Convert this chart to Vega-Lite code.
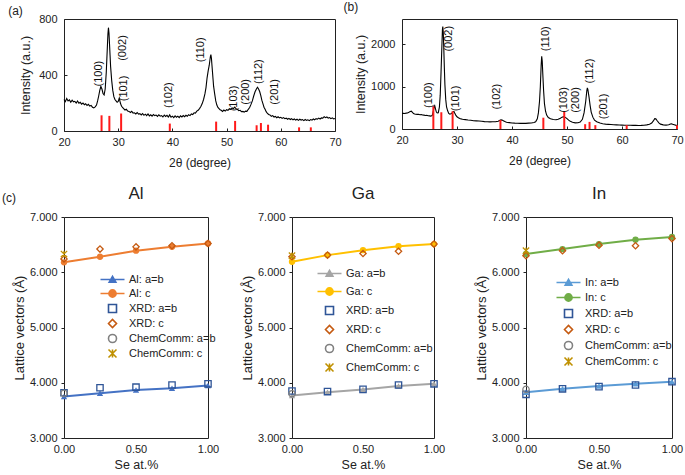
{
  "$schema": "https://vega.github.io/schema/vega-lite/v6.json",
  "background": "white",
  "padding": {"left": 1, "top": 0, "right": 0, "bottom": 0},
  "spacing": 15,
  "resolve": {"scale": {"stroke": "independent", "fill": "independent", "shape": "independent"}, "legend": {"stroke": "independent", "fill": "independent", "shape": "independent"}},
  "config": {
    "font": "Liberation Sans",
    "view": {"stroke": "#222", "strokeWidth": 1},
    "axis": {"labelFont": "Liberation Sans", "titleFont": "Liberation Sans", "labelColor": "#222", "titleColor": "#222", "titleFontWeight": "normal", "grid": false, "domain": false, "tickColor": "#222", "labelFlush": false, "labelOverlap": false},
    "title": {"font": "Liberation Sans", "fontWeight": "normal", "color": "#222"},
    "legend": {"labelFont": "Liberation Sans", "labelColor": "#222", "labelFontSize": 11, "title": null, "padding": 0, "symbolSize": 64, "symbolStrokeWidth": 1.6, "labelOffset": 11, "orient": "none"}
  },
  "vconcat": [
    {
      "title": {"text": "(a)", "anchor": "start", "frame": "bounds", "dx": -11, "fontSize": 12, "offset": -17},
      "spacing": 1,
      "hconcat": [
        {
          "width": 271, "height": 112,
          "layer": [
            {
              "data": {"values": [
                {"t":20.0,"i":225},{"t":20.25,"i":210},{"t":20.5,"i":232},{"t":20.75,"i":215},{"t":21.0,"i":222},{"t":21.25,"i":205},{"t":21.5,"i":220},{"t":21.75,"i":208},{"t":22.0,"i":212},{"t":22.25,"i":200},{"t":22.5,"i":214},{"t":22.75,"i":198},{"t":23.0,"i":205},{"t":23.25,"i":192},{"t":23.5,"i":200},{"t":23.75,"i":188},{"t":24.0,"i":195},{"t":24.25,"i":182},{"t":24.5,"i":190},{"t":24.75,"i":178},{"t":25.0,"i":183},{"t":25.25,"i":170},{"t":25.5,"i":165},{"t":25.75,"i":172},{"t":26.0,"i":185},{"t":26.2,"i":215},{"t":26.4,"i":250},{"t":26.6,"i":290},{"t":26.8,"i":318},{"t":27.0,"i":300},{"t":27.2,"i":268},{"t":27.4,"i":258},{"t":27.6,"i":300},{"t":27.8,"i":420},{"t":28.0,"i":600},{"t":28.1,"i":690},{"t":28.2,"i":738},{"t":28.3,"i":700},{"t":28.4,"i":620},{"t":28.5,"i":540},{"t":28.6,"i":460},{"t":28.8,"i":360},{"t":29.0,"i":290},{"t":29.2,"i":245},{"t":29.4,"i":225},{"t":29.6,"i":215},{"t":29.8,"i":205},{"t":30.0,"i":212},{"t":30.2,"i":235},{"t":30.4,"i":200},{"t":30.6,"i":178},{"t":30.8,"i":168},{"t":31.0,"i":160},{"t":31.25,"i":150},{"t":31.5,"i":155},{"t":31.75,"i":142},{"t":32.0,"i":140},{"t":32.25,"i":132},{"t":32.5,"i":140},{"t":32.75,"i":128},{"t":33.0,"i":130},{"t":33.25,"i":122},{"t":33.5,"i":132},{"t":33.75,"i":120},{"t":34.0,"i":124},{"t":34.25,"i":115},{"t":34.5,"i":125},{"t":34.75,"i":112},{"t":35.0,"i":120},{"t":35.25,"i":110},{"t":35.5,"i":122},{"t":35.75,"i":108},{"t":36.0,"i":116},{"t":36.25,"i":106},{"t":36.5,"i":118},{"t":36.75,"i":110},{"t":37.0,"i":114},{"t":37.25,"i":104},{"t":37.5,"i":116},{"t":37.75,"i":106},{"t":38.0,"i":110},{"t":38.25,"i":100},{"t":38.5,"i":114},{"t":38.75,"i":104},{"t":39.0,"i":112},{"t":39.25,"i":100},{"t":39.5,"i":115},{"t":39.75,"i":98},{"t":40.0,"i":106},{"t":40.25,"i":96},{"t":40.5,"i":108},{"t":40.75,"i":98},{"t":41.0,"i":106},{"t":41.25,"i":95},{"t":41.5,"i":108},{"t":41.75,"i":100},{"t":42.0,"i":110},{"t":42.25,"i":102},{"t":42.5,"i":112},{"t":42.75,"i":105},{"t":43.0,"i":116},{"t":43.25,"i":110},{"t":43.5,"i":122},{"t":43.75,"i":118},{"t":44.0,"i":130},{"t":44.25,"i":128},{"t":44.5,"i":142},{"t":44.75,"i":148},{"t":45.0,"i":160},{"t":45.25,"i":175},{"t":45.5,"i":196},{"t":45.75,"i":225},{"t":46.0,"i":265},{"t":46.2,"i":310},{"t":46.4,"i":380},{"t":46.6,"i":430},{"t":46.8,"i":470},{"t":46.9,"i":500},{"t":47.0,"i":530},{"t":47.1,"i":545},{"t":47.2,"i":520},{"t":47.3,"i":470},{"t":47.4,"i":420},{"t":47.5,"i":370},{"t":47.6,"i":320},{"t":47.8,"i":265},{"t":48.0,"i":215},{"t":48.2,"i":185},{"t":48.4,"i":168},{"t":48.6,"i":160},{"t":48.8,"i":152},{"t":49.0,"i":148},{"t":49.25,"i":140},{"t":49.5,"i":150},{"t":49.75,"i":142},{"t":50.0,"i":152},{"t":50.25,"i":148},{"t":50.5,"i":158},{"t":50.75,"i":155},{"t":51.0,"i":165},{"t":51.25,"i":160},{"t":51.5,"i":170},{"t":51.75,"i":158},{"t":52.0,"i":155},{"t":52.25,"i":145},{"t":52.5,"i":148},{"t":52.75,"i":138},{"t":53.0,"i":140},{"t":53.25,"i":135},{"t":53.5,"i":142},{"t":53.75,"i":140},{"t":54.0,"i":155},{"t":54.25,"i":168},{"t":54.5,"i":190},{"t":54.75,"i":215},{"t":55.0,"i":250},{"t":55.25,"i":280},{"t":55.5,"i":300},{"t":55.7,"i":312},{"t":55.9,"i":300},{"t":56.1,"i":282},{"t":56.3,"i":255},{"t":56.5,"i":220},{"t":56.7,"i":195},{"t":56.9,"i":170},{"t":57.1,"i":155},{"t":57.3,"i":138},{"t":57.5,"i":128},{"t":57.75,"i":118},{"t":58.0,"i":115},{"t":58.25,"i":105},{"t":58.5,"i":110},{"t":58.75,"i":100},{"t":59.0,"i":104},{"t":59.25,"i":95},{"t":59.5,"i":102},{"t":59.75,"i":94},{"t":60.0,"i":98},{"t":60.25,"i":90},{"t":60.5,"i":96},{"t":60.75,"i":88},{"t":61.0,"i":92},{"t":61.25,"i":84},{"t":61.5,"i":90},{"t":61.75,"i":82},{"t":62.0,"i":88},{"t":62.25,"i":80},{"t":62.5,"i":86},{"t":62.75,"i":78},{"t":63.0,"i":84},{"t":63.25,"i":76},{"t":63.5,"i":84},{"t":63.75,"i":78},{"t":64.0,"i":82},{"t":64.25,"i":74},{"t":64.5,"i":82},{"t":64.75,"i":76},{"t":65.0,"i":80},{"t":65.25,"i":74},{"t":65.5,"i":82},{"t":65.75,"i":78},{"t":66.0,"i":86},{"t":66.25,"i":80},{"t":66.5,"i":88},{"t":66.75,"i":84},{"t":67.0,"i":92},{"t":67.25,"i":86},{"t":67.5,"i":94},{"t":67.75,"i":92},{"t":68.0,"i":102},{"t":68.25,"i":95},{"t":68.5,"i":100},{"t":68.75,"i":92},{"t":69.0,"i":96},{"t":69.25,"i":88},{"t":69.5,"i":94},{"t":69.75,"i":86},{"t":70.0,"i":90}
              ]},
              "mark": {"type": "line", "color": "black", "strokeWidth": 1.1},
              "encoding": {
                "x": {"field": "t", "type": "quantitative", "scale": {"domain": [20, 70]}, "axis": {"values": [20,30,40,50,60,70], "title": "2θ (degree)", "tickSize": -3, "labelPadding": 8, "labelFontSize": 11, "titleFontSize": 12, "titlePadding": 10}},
                "y": {"field": "i", "type": "quantitative", "scale": {"domain": [0, 800]}, "axis": {"values": [0,200,400,600,800], "format": "d", "title": "Intensity (a.u.)", "tickSize": -3, "labelPadding": 10, "labelFontSize": 11, "titleFontSize": 12.5, "titlePadding": 6}}
              }
            },
            {
              "data": {"values": [
                {"t":26.93,"i":112},{"t":28.37,"i":108},{"t":30.54,"i":125},{"t":39.52,"i":53},{"t":48.07,"i":67},{"t":51.57,"i":72},{"t":55.54,"i":41},{"t":56.33,"i":57},{"t":57.65,"i":45},{"t":63.37,"i":26},{"t":65.54,"i":26}
              ]},
              "mark": {"type": "rule", "color": "#ff1a1a", "strokeWidth": 2},
              "encoding": {
                "x": {"field": "t", "type": "quantitative"},
                "y": {"field": "i", "type": "quantitative"},
                "y2": {"datum": 0}
              }
            },
            {
              "data": {"values": [
                {"t":26.5,"i":410,"h":"(100)"},{"t":30.9,"i":593,"h":"(002)"},{"t":31.1,"i":304,"h":"(101)"},{"t":39.3,"i":256,"h":"(102)"},{"t":45.3,"i":580,"h":"(110)"},{"t":51.3,"i":232,"h":"(103)"},{"t":53.6,"i":280,"h":"(200)"},{"t":56.0,"i":424,"h":"(112)"},{"t":58.9,"i":280,"h":"(201)"}
              ]},
              "mark": {"type": "text", "angle": 270, "align": "center", "baseline": "middle", "fontSize": 11, "font": "Liberation Sans", "color": "#111"},
              "encoding": {
                "x": {"field": "t", "type": "quantitative"},
                "y": {"field": "i", "type": "quantitative"},
                "text": {"field": "h"}
              }
            }
          ]
        },
        {
          "title": {"text": "(b)", "anchor": "start", "frame": "bounds", "dx": -11, "fontSize": 12, "offset": 5},
          "width": 275, "height": 110,
          "layer": [
            {
              "data": {"values": [
                {"t":20.0,"i":365},{"t":20.25,"i":372},{"t":20.5,"i":368},{"t":20.75,"i":376},{"t":21.0,"i":380},{"t":21.25,"i":395},{"t":21.5,"i":412},{"t":21.7,"i":420},{"t":21.9,"i":395},{"t":22.1,"i":365},{"t":22.3,"i":355},{"t":22.5,"i":350},{"t":22.75,"i":345},{"t":23.0,"i":348},{"t":23.25,"i":338},{"t":23.5,"i":342},{"t":23.75,"i":330},{"t":24.0,"i":328},{"t":24.25,"i":320},{"t":24.5,"i":324},{"t":24.75,"i":312},{"t":25.0,"i":310},{"t":25.25,"i":305},{"t":25.5,"i":320},{"t":25.7,"i":420},{"t":25.85,"i":530},{"t":25.95,"i":550},{"t":26.1,"i":470},{"t":26.25,"i":400},{"t":26.4,"i":380},{"t":26.6,"i":385},{"t":26.8,"i":520},{"t":26.95,"i":800},{"t":27.1,"i":1350},{"t":27.25,"i":1950},{"t":27.35,"i":2350},{"t":27.42,"i":2420},{"t":27.5,"i":2300},{"t":27.6,"i":1900},{"t":27.7,"i":1450},{"t":27.8,"i":1050},{"t":27.95,"i":700},{"t":28.1,"i":520},{"t":28.3,"i":430},{"t":28.5,"i":370},{"t":28.7,"i":350},{"t":28.9,"i":360},{"t":29.1,"i":380},{"t":29.3,"i":410},{"t":29.45,"i":415},{"t":29.6,"i":370},{"t":29.8,"i":320},{"t":30.0,"i":290},{"t":30.25,"i":265},{"t":30.5,"i":250},{"t":30.75,"i":240},{"t":31.0,"i":232},{"t":31.5,"i":222},{"t":32.0,"i":212},{"t":32.5,"i":205},{"t":33.0,"i":195},{"t":33.5,"i":192},{"t":34.0,"i":188},{"t":34.5,"i":182},{"t":35.0,"i":175},{"t":35.5,"i":172},{"t":36.0,"i":168},{"t":36.5,"i":170},{"t":37.0,"i":172},{"t":37.5,"i":185},{"t":37.8,"i":205},{"t":38.0,"i":215},{"t":38.2,"i":210},{"t":38.5,"i":190},{"t":38.8,"i":170},{"t":39.0,"i":158},{"t":39.5,"i":150},{"t":40.0,"i":142},{"t":40.5,"i":138},{"t":41.0,"i":136},{"t":41.5,"i":134},{"t":42.0,"i":132},{"t":42.5,"i":134},{"t":43.0,"i":138},{"t":43.5,"i":142},{"t":44.0,"i":152},{"t":44.3,"i":170},{"t":44.6,"i":240},{"t":44.8,"i":380},{"t":45.0,"i":650},{"t":45.15,"i":1000},{"t":45.3,"i":1500},{"t":45.4,"i":1720},{"t":45.5,"i":1600},{"t":45.6,"i":1300},{"t":45.75,"i":900},{"t":45.9,"i":600},{"t":46.1,"i":420},{"t":46.3,"i":330},{"t":46.6,"i":270},{"t":47.0,"i":240},{"t":47.5,"i":225},{"t":48.0,"i":220},{"t":48.4,"i":232},{"t":48.8,"i":255},{"t":49.1,"i":280},{"t":49.4,"i":292},{"t":49.7,"i":275},{"t":50.0,"i":245},{"t":50.3,"i":210},{"t":50.6,"i":180},{"t":51.0,"i":160},{"t":51.5,"i":145},{"t":52.0,"i":148},{"t":52.4,"i":165},{"t":52.8,"i":230},{"t":53.1,"i":380},{"t":53.4,"i":650},{"t":53.6,"i":900},{"t":53.7,"i":970},{"t":53.8,"i":930},{"t":54.0,"i":760},{"t":54.2,"i":560},{"t":54.4,"i":400},{"t":54.7,"i":280},{"t":55.0,"i":210},{"t":55.4,"i":170},{"t":56.0,"i":140},{"t":56.5,"i":125},{"t":57.0,"i":115},{"t":57.5,"i":110},{"t":58.0,"i":106},{"t":58.5,"i":102},{"t":59.0,"i":98},{"t":59.5,"i":95},{"t":60.0,"i":92},{"t":60.5,"i":90},{"t":61.0,"i":90},{"t":61.5,"i":88},{"t":62.0,"i":86},{"t":62.5,"i":85},{"t":63.0,"i":84},{"t":63.5,"i":86},{"t":64.0,"i":90},{"t":64.5,"i":98},{"t":65.0,"i":112},{"t":65.4,"i":140},{"t":65.7,"i":190},{"t":65.95,"i":245},{"t":66.15,"i":240},{"t":66.4,"i":195},{"t":66.7,"i":145},{"t":67.0,"i":115},{"t":67.5,"i":98},{"t":68.0,"i":92},{"t":68.5,"i":100},{"t":68.8,"i":120},{"t":69.0,"i":125},{"t":69.2,"i":110},{"t":69.5,"i":100},{"t":70.0,"i":80}
              ]},
              "mark": {"type": "line", "color": "black", "strokeWidth": 1.1},
              "encoding": {
                "x": {"field": "t", "type": "quantitative", "scale": {"domain": [20, 70]}, "axis": {"values": [20,30,40,50,60,70], "title": "2θ (degree)", "tickSize": -3, "labelPadding": 8, "labelFontSize": 11, "titleFontSize": 12, "titlePadding": 10}},
                "y": {"field": "i", "type": "quantitative", "scale": {"domain": [0, 2500]}, "axis": {"values": [0,500,1000,1500,2000,2500], "format": "d", "title": "Intensity (a.u.)", "tickSize": -3, "labelPadding": 10, "labelFontSize": 11, "titleFontSize": 12.5, "titlePadding": 3}}
              }
            },
            {
              "data": {"values": [
                {"t":25.7,"i":540},{"t":27.15,"i":396},{"t":29.2,"i":419},{"t":37.9,"i":213},{"t":45.7,"i":267},{"t":49.5,"i":419},{"t":53.3,"i":114},{"t":54.1,"i":168},{"t":55.15,"i":91},{"t":60.85,"i":91},{"t":70.0,"i":91}
              ]},
              "mark": {"type": "rule", "color": "#ff1a1a", "strokeWidth": 2},
              "encoding": {
                "x": {"field": "t", "type": "quantitative"},
                "y": {"field": "i", "type": "quantitative"},
                "y2": {"datum": 0}
              }
            },
            {
              "data": {"values": [
                {"t":24.85,"i":800,"h":"(100)"},{"t":28.5,"i":2134,"h":"(002)"},{"t":29.8,"i":724,"h":"(101)"},{"t":37.2,"i":762,"h":"(102)"},{"t":46.1,"i":2134,"h":"(110)"},{"t":49.5,"i":686,"h":"(103)"},{"t":51.6,"i":686,"h":"(200)"},{"t":54.1,"i":1372,"h":"(112)"},{"t":56.7,"i":534,"h":"(201)"}
              ]},
              "mark": {"type": "text", "angle": 270, "align": "center", "baseline": "middle", "fontSize": 11, "font": "Liberation Sans", "color": "#111"},
              "encoding": {
                "x": {"field": "t", "type": "quantitative"},
                "y": {"field": "i", "type": "quantitative"},
                "text": {"field": "h"}
              }
            }
          ]
        }
      ]
    },
    {
      "title": {"text": "(c)", "anchor": "start", "frame": "bounds", "dx": -11, "fontSize": 12, "offset": -20},
      "spacing": 20,
      "resolve": {"scale": {"stroke": "independent", "fill": "independent", "shape": "independent"}, "legend": {"stroke": "independent", "fill": "independent", "shape": "independent"}},
      "hconcat": [
        {
          "width": 144, "height": 221,
          "title": {"text": "Al", "fontSize": 17, "offset": 8},
          "data": {"values": [
            {"x":0,"v":3.75,"s":"Al: a=b"},{"x":0.25,"v":3.81,"s":"Al: a=b"},{"x":0.5,"v":3.87,"s":"Al: a=b"},{"x":0.75,"v":3.90,"s":"Al: a=b"},{"x":1,"v":3.95,"s":"Al: a=b"},
            {"x":0,"v":6.18,"s":"Al: c"},{"x":0.25,"v":6.28,"s":"Al: c"},{"x":0.5,"v":6.39,"s":"Al: c"},{"x":0.75,"v":6.46,"s":"Al: c"},{"x":1,"v":6.52,"s":"Al: c"},
            {"x":0,"v":3.82,"s":"XRD: a=b"},{"x":0.25,"v":3.91,"s":"XRD: a=b"},{"x":0.5,"v":3.92,"s":"XRD: a=b"},{"x":0.75,"v":3.96,"s":"XRD: a=b"},{"x":1,"v":3.98,"s":"XRD: a=b"},
            {"x":0,"v":6.24,"s":"XRD: c"},{"x":0.25,"v":6.42,"s":"XRD: c"},{"x":0.5,"v":6.46,"s":"XRD: c"},{"x":0.75,"v":6.48,"s":"XRD: c"},{"x":1,"v":6.52,"s":"XRD: c"},
            {"x":0,"v":3.81,"s":"ChemComm: a=b"},
            {"x":0,"v":6.33,"s":"ChemComm: c"}
          ]},
          "layer": [
            {
              "transform": [{"filter": {"field": "s", "oneOf": ["Al: a=b", "Al: c"]}}],
              "mark": {"type": "line", "strokeWidth": 2},
              "encoding": {
                "x": {"field": "x", "type": "quantitative", "scale": {"domain": [0, 1]}, "axis": {"values": [0, 0.5, 1], "format": ".2f", "ticks": false, "labelPadding": 5, "labelFontSize": 11, "title": "Se at.%", "titleFontSize": 12.5, "titlePadding": 4}},
                "y": {"field": "v", "type": "quantitative", "scale": {"domain": [3, 7]}, "axis": {"values": [3,3.5,4,4.5,5,5.5,6,6.5,7], "labelExpr": "datum.value % 1 == 0 ? format(datum.value, '.3f') : ''", "tickSize": 3, "labelPadding": 4, "labelFontSize": 11, "title": "Lattice vectors (Å)", "titleFontSize": 13, "titlePadding": 3}},
                "stroke": {"field": "s", "type": "nominal", "scale": {"domain": ["Al: a=b","Al: c","XRD: a=b","XRD: c","ChemComm: a=b","ChemComm: c"], "range": ["#4472C4","#ED7D31","#2F5597","#C55A11","#808080","#BF9000"]}}
              }
            },
            {
              "transform": [{"filter": {"field": "s", "equal": "Al: a=b"}}],
              "mark": {"type": "point", "shape": "triangle-up", "filled": true, "color": "#4472C4", "opacity": 1, "size": 40},
              "encoding": {"x": {"field": "x", "type": "quantitative"}, "y": {"field": "v", "type": "quantitative"}}
            },
            {
              "transform": [{"filter": {"field": "s", "equal": "Al: c"}}],
              "mark": {"type": "point", "shape": "circle", "filled": true, "color": "#ED7D31", "opacity": 1, "size": 40},
              "encoding": {"x": {"field": "x", "type": "quantitative"}, "y": {"field": "v", "type": "quantitative"}}
            },
            {
              "transform": [{"filter": {"field": "s", "oneOf": ["XRD: a=b","XRD: c","ChemComm: a=b","ChemComm: c"]}}],
              "mark": {"type": "point", "opacity": 1, "strokeWidth": 1.3, "size": 40},
              "encoding": {
                "x": {"field": "x", "type": "quantitative"},
                "y": {"field": "v", "type": "quantitative"},
                "stroke": {"field": "s", "type": "nominal", "scale": {"domain": ["Al: a=b","Al: c","XRD: a=b","XRD: c","ChemComm: a=b","ChemComm: c"], "range": ["#4472C4","#ED7D31","#2F5597","#C55A11","#808080","#BF9000"]}, "legend": {"legendX": 43, "legendY": 57, "rowPadding": 0}},
                "fill": {"field": "s", "type": "nominal", "scale": {"domain": ["Al: a=b","Al: c","XRD: a=b","XRD: c","ChemComm: a=b","ChemComm: c"], "range": ["#4472C4","#ED7D31","transparent","transparent","transparent","transparent"]}, "legend": {"legendX": 43, "legendY": 57, "rowPadding": 0}},
                "shape": {"field": "s", "type": "nominal", "scale": {"domain": ["Al: a=b","Al: c","XRD: a=b","XRD: c","ChemComm: a=b","ChemComm: c"], "range": ["M-3,0H3M-0.85,0.7L0,-0.8L0.85,0.7Z","M-3,0H3M0.9,0A0.9,0.9,0,1,1,-0.9,0A0.9,0.9,0,1,1,0.9,0Z","square","diamond","circle","M-1,-1L1,1M-1,1L1,-1M0,-1V1"]}, "legend": {"legendX": 43, "legendY": 57, "rowPadding": 0}}
              }
            }
          ]
        },
        {
          "spacing": 28,
          "resolve": {"scale": {"stroke": "independent", "fill": "independent", "shape": "independent"}, "legend": {"stroke": "independent", "fill": "independent", "shape": "independent"}},
          "hconcat": [
            {
              "width": 142, "height": 221,
              "title": {"text": "Ga", "fontSize": 17, "offset": 8},
              "data": {"values": [
                {"x":0,"v":3.77,"s":"Ga: a=b"},{"x":0.25,"v":3.83,"s":"Ga: a=b"},{"x":0.5,"v":3.88,"s":"Ga: a=b"},{"x":0.75,"v":3.94,"s":"Ga: a=b"},{"x":1,"v":3.98,"s":"Ga: a=b"},
                {"x":0,"v":6.19,"s":"Ga: c"},{"x":0.25,"v":6.31,"s":"Ga: c"},{"x":0.5,"v":6.40,"s":"Ga: c"},{"x":0.75,"v":6.47,"s":"Ga: c"},{"x":1,"v":6.51,"s":"Ga: c"},
                {"x":0,"v":3.85,"s":"XRD: a=b"},{"x":0.25,"v":3.84,"s":"XRD: a=b"},{"x":0.5,"v":3.88,"s":"XRD: a=b"},{"x":0.75,"v":3.96,"s":"XRD: a=b"},{"x":1,"v":3.98,"s":"XRD: a=b"},
                {"x":0,"v":6.28,"s":"XRD: c"},{"x":0.25,"v":6.31,"s":"XRD: c"},{"x":0.5,"v":6.34,"s":"XRD: c"},{"x":0.75,"v":6.38,"s":"XRD: c"},{"x":1,"v":6.51,"s":"XRD: c"},
                {"x":0,"v":3.80,"s":"ChemComm: a=b"},
                {"x":0,"v":6.30,"s":"ChemComm: c"}
              ]},
              "layer": [
                {
                  "transform": [{"filter": {"field": "s", "oneOf": ["Ga: a=b", "Ga: c"]}}],
                  "mark": {"type": "line", "strokeWidth": 2},
                  "encoding": {
                    "x": {"field": "x", "type": "quantitative", "scale": {"domain": [0, 1]}, "axis": {"values": [0, 0.5, 1], "format": ".2f", "ticks": false, "labelPadding": 5, "labelFontSize": 11, "title": "Se at.%", "titleFontSize": 12.5, "titlePadding": 4}},
                    "y": {"field": "v", "type": "quantitative", "scale": {"domain": [3, 7]}, "axis": {"values": [3,3.5,4,4.5,5,5.5,6,6.5,7], "labelExpr": "datum.value % 1 == 0 ? format(datum.value, '.3f') : ''", "tickSize": 3, "labelPadding": 4, "labelFontSize": 11, "title": "Lattice vectors (Å)", "titleFontSize": 13, "titlePadding": 3}},
                    "stroke": {"field": "s", "type": "nominal", "scale": {"domain": ["Ga: a=b","Ga: c","XRD: a=b","XRD: c","ChemComm: a=b","ChemComm: c"], "range": ["#A5A5A5","#FFC000","#2F5597","#C55A11","#808080","#BF9000"]}}
                  }
                },
                {
                  "transform": [{"filter": {"field": "s", "equal": "Ga: a=b"}}],
                  "mark": {"type": "point", "shape": "triangle-up", "filled": true, "color": "#A5A5A5", "opacity": 1, "size": 40},
                  "encoding": {"x": {"field": "x", "type": "quantitative"}, "y": {"field": "v", "type": "quantitative"}}
                },
                {
                  "transform": [{"filter": {"field": "s", "equal": "Ga: c"}}],
                  "mark": {"type": "point", "shape": "circle", "filled": true, "color": "#FFC000", "opacity": 1, "size": 40},
                  "encoding": {"x": {"field": "x", "type": "quantitative"}, "y": {"field": "v", "type": "quantitative"}}
                },
                {
                  "transform": [{"filter": {"field": "s", "oneOf": ["XRD: a=b","XRD: c","ChemComm: a=b","ChemComm: c"]}}],
                  "mark": {"type": "point", "opacity": 1, "strokeWidth": 1.3, "size": 40},
                  "encoding": {
                    "x": {"field": "x", "type": "quantitative"},
                    "y": {"field": "v", "type": "quantitative"},
                    "stroke": {"field": "s", "type": "nominal", "scale": {"domain": ["Ga: a=b","Ga: c","XRD: a=b","XRD: c","ChemComm: a=b","ChemComm: c"], "range": ["#A5A5A5","#FFC000","#2F5597","#C55A11","#808080","#BF9000"]}, "legend": {"legendX": 32, "legendY": 51, "rowPadding": 4}},
                    "fill": {"field": "s", "type": "nominal", "scale": {"domain": ["Ga: a=b","Ga: c","XRD: a=b","XRD: c","ChemComm: a=b","ChemComm: c"], "range": ["#A5A5A5","#FFC000","transparent","transparent","transparent","transparent"]}, "legend": {"legendX": 32, "legendY": 51, "rowPadding": 4}},
                    "shape": {"field": "s", "type": "nominal", "scale": {"domain": ["Ga: a=b","Ga: c","XRD: a=b","XRD: c","ChemComm: a=b","ChemComm: c"], "range": ["M-3,0H3M-0.85,0.7L0,-0.8L0.85,0.7Z","M-3,0H3M0.9,0A0.9,0.9,0,1,1,-0.9,0A0.9,0.9,0,1,1,0.9,0Z","square","diamond","circle","M-1,-1L1,1M-1,1L1,-1M0,-1V1"]}, "legend": {"legendX": 32, "legendY": 51, "rowPadding": 4}}
                  }
                }
              ]
            },
            {
              "width": 146, "height": 221,
              "title": {"text": "In", "fontSize": 17, "offset": 8},
              "data": {"values": [
                {"x":0,"v":3.83,"s":"In: a=b"},{"x":0.25,"v":3.89,"s":"In: a=b"},{"x":0.5,"v":3.94,"s":"In: a=b"},{"x":0.75,"v":3.98,"s":"In: a=b"},{"x":1,"v":4.02,"s":"In: a=b"},
                {"x":0,"v":6.33,"s":"In: c"},{"x":0.25,"v":6.42,"s":"In: c"},{"x":0.5,"v":6.51,"s":"In: c"},{"x":0.75,"v":6.59,"s":"In: c"},{"x":1,"v":6.64,"s":"In: c"},
                {"x":0,"v":3.79,"s":"XRD: a=b"},{"x":0.25,"v":3.89,"s":"XRD: a=b"},{"x":0.5,"v":3.93,"s":"XRD: a=b"},{"x":0.75,"v":3.96,"s":"XRD: a=b"},{"x":1,"v":4.02,"s":"XRD: a=b"},
                {"x":0,"v":6.30,"s":"XRD: c"},{"x":0.25,"v":6.39,"s":"XRD: c"},{"x":0.5,"v":6.49,"s":"XRD: c"},{"x":0.75,"v":6.48,"s":"XRD: c"},{"x":1,"v":6.61,"s":"XRD: c"},
                {"x":0,"v":3.88,"s":"ChemComm: a=b"},
                {"x":0,"v":6.39,"s":"ChemComm: c"}
              ]},
              "layer": [
                {
                  "transform": [{"filter": {"field": "s", "oneOf": ["In: a=b", "In: c"]}}],
                  "mark": {"type": "line", "strokeWidth": 2},
                  "encoding": {
                    "x": {"field": "x", "type": "quantitative", "scale": {"domain": [0, 1]}, "axis": {"values": [0, 0.5, 1], "format": ".2f", "ticks": false, "labelPadding": 5, "labelFontSize": 11, "title": "Se at.%", "titleFontSize": 12.5, "titlePadding": 4}},
                    "y": {"field": "v", "type": "quantitative", "scale": {"domain": [3, 7]}, "axis": {"values": [3,3.5,4,4.5,5,5.5,6,6.5,7], "labelExpr": "datum.value % 1 == 0 ? format(datum.value, '.3f') : ''", "tickSize": 3, "labelPadding": 4, "labelFontSize": 11, "title": "Lattice vectors (Å)", "titleFontSize": 13, "titlePadding": 3}},
                    "stroke": {"field": "s", "type": "nominal", "scale": {"domain": ["In: a=b","In: c","XRD: a=b","XRD: c","ChemComm: a=b","ChemComm: c"], "range": ["#5B9BD5","#70AD47","#2F5597","#C55A11","#808080","#BF9000"]}}
                  }
                },
                {
                  "transform": [{"filter": {"field": "s", "equal": "In: a=b"}}],
                  "mark": {"type": "point", "shape": "triangle-up", "filled": true, "color": "#5B9BD5", "opacity": 1, "size": 40},
                  "encoding": {"x": {"field": "x", "type": "quantitative"}, "y": {"field": "v", "type": "quantitative"}}
                },
                {
                  "transform": [{"filter": {"field": "s", "equal": "In: c"}}],
                  "mark": {"type": "point", "shape": "circle", "filled": true, "color": "#70AD47", "opacity": 1, "size": 40},
                  "encoding": {"x": {"field": "x", "type": "quantitative"}, "y": {"field": "v", "type": "quantitative"}}
                },
                {
                  "transform": [{"filter": {"field": "s", "oneOf": ["XRD: a=b","XRD: c","ChemComm: a=b","ChemComm: c"]}}],
                  "mark": {"type": "point", "opacity": 1, "strokeWidth": 1.3, "size": 40},
                  "encoding": {
                    "x": {"field": "x", "type": "quantitative"},
                    "y": {"field": "v", "type": "quantitative"},
                    "stroke": {"field": "s", "type": "nominal", "scale": {"domain": ["In: a=b","In: c","XRD: a=b","XRD: c","ChemComm: a=b","ChemComm: c"], "range": ["#5B9BD5","#70AD47","#2F5597","#C55A11","#808080","#BF9000"]}, "legend": {"legendX": 37, "legendY": 60, "rowPadding": 1}},
                    "fill": {"field": "s", "type": "nominal", "scale": {"domain": ["In: a=b","In: c","XRD: a=b","XRD: c","ChemComm: a=b","ChemComm: c"], "range": ["#5B9BD5","#70AD47","transparent","transparent","transparent","transparent"]}, "legend": {"legendX": 37, "legendY": 60, "rowPadding": 1}},
                    "shape": {"field": "s", "type": "nominal", "scale": {"domain": ["In: a=b","In: c","XRD: a=b","XRD: c","ChemComm: a=b","ChemComm: c"], "range": ["M-3,0H3M-0.85,0.7L0,-0.8L0.85,0.7Z","M-3,0H3M0.9,0A0.9,0.9,0,1,1,-0.9,0A0.9,0.9,0,1,1,0.9,0Z","square","diamond","circle","M-1,-1L1,1M-1,1L1,-1M0,-1V1"]}, "legend": {"legendX": 37, "legendY": 60, "rowPadding": 1}}
                  }
                }
              ]
            }
          ]
        }
      ]
    }
  ]
}
